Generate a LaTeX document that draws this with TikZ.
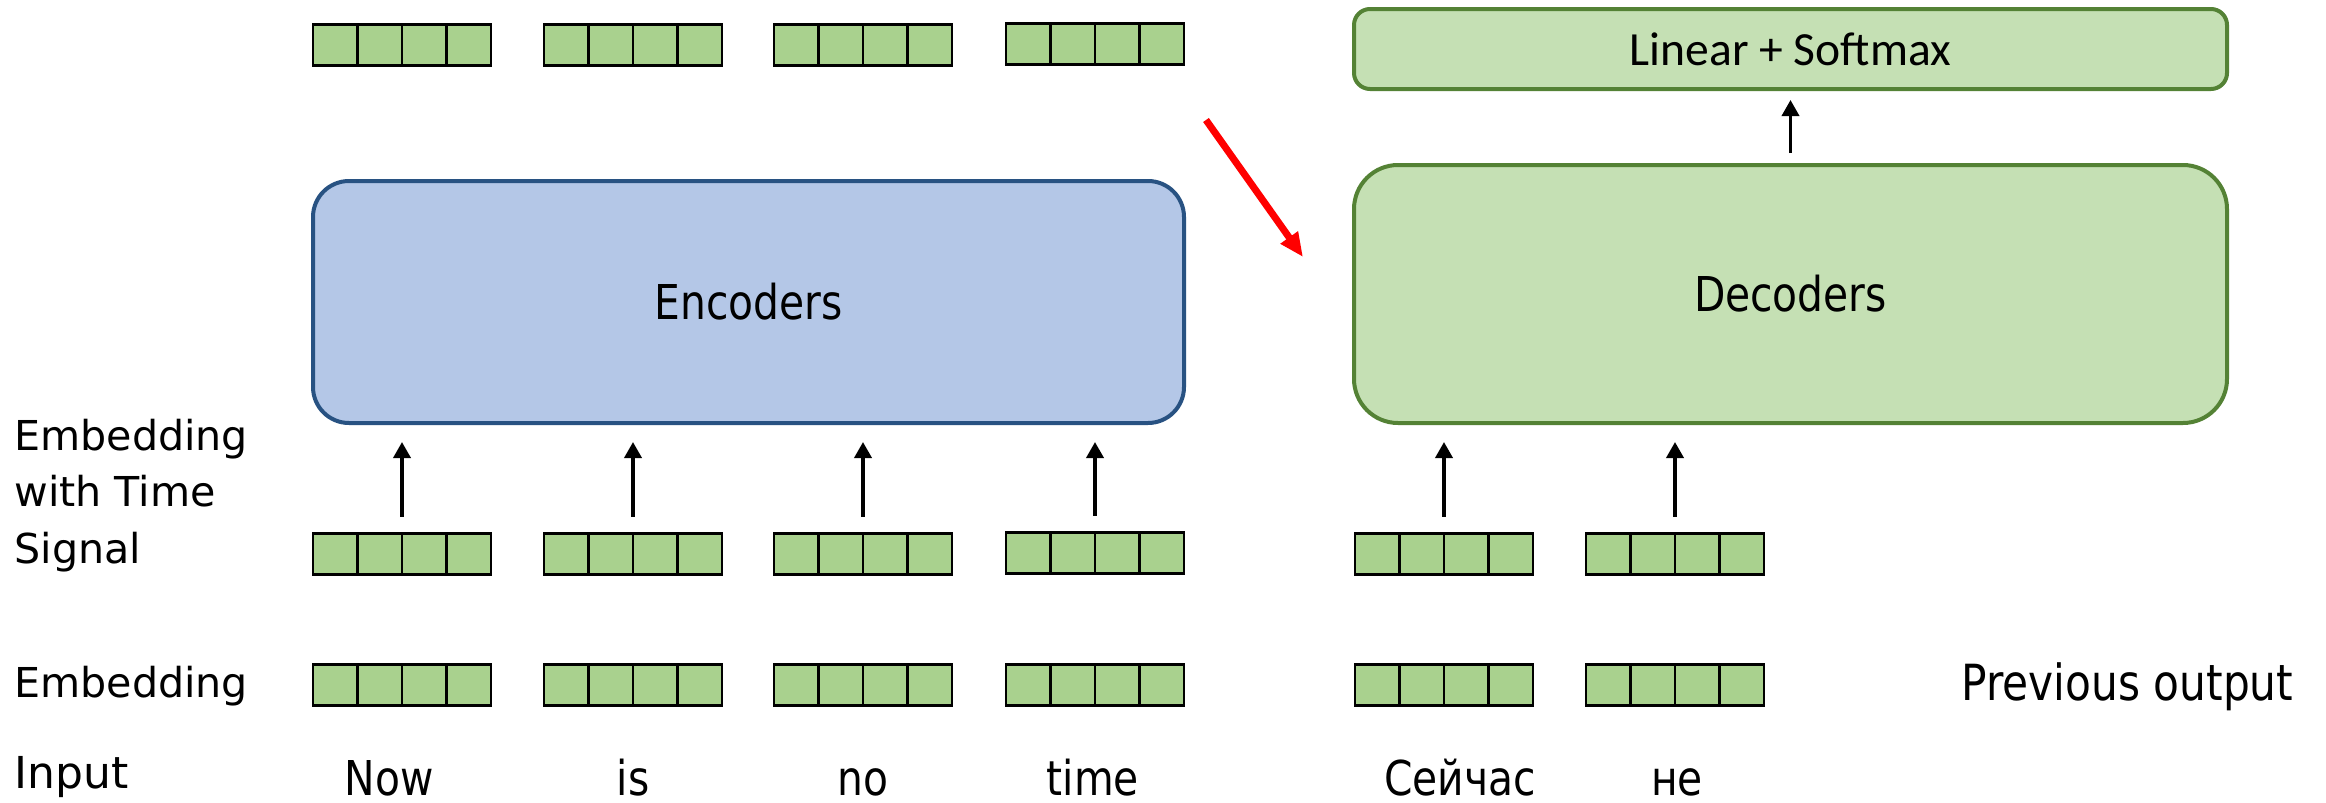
\documentclass[tikz,border=0pt]{standalone}
\usepackage{fontspec}
\setmainfont{DejaVu Sans}
\newfontfamily\condfont[FakeStretch=0.85]{DejaVu Sans}
\newfontfamily\calfont{Carlito}
\usetikzlibrary{arrows.meta,calc}
\definecolor{cellgreen}{RGB}{169,209,142}
\definecolor{encfill}{RGB}{180,199,231}
\definecolor{encline}{RGB}{40,82,130}
\definecolor{decfill}{RGB}{197,224,180}
\definecolor{decline}{RGB}{84,130,53}

\begin{document}
\begin{tikzpicture}[x=0.5pt,y=-0.5pt,
  vec/.style={draw=black, fill=cellgreen, line width=1.4pt,
    minimum width=89pt, minimum height=20.5pt, inner sep=0pt, outer sep=0pt,
    path picture={\foreach \k in {1,2,3}{
      \draw[line width=1.4pt]
        ($(path picture bounding box.south west)!\k/4!(path picture bounding box.south east)$)
        -- ++(0,30pt);}}},
  lbl/.style={font=\fontsize{20.6pt}{24pt}\selectfont, anchor=base west, inner sep=0pt},
  word/.style={font=\condfont\fontsize{24pt}{28pt}\selectfont, anchor=base, inner sep=0pt},
  bigbox/.style={line width=2pt, font=\condfont\fontsize{24pt}{28pt}\selectfont},
  upar/.style={-{Triangle[length=8pt,width=8.5pt]}, line width=1.8pt,
    shorten <=8.5pt, shorten >=8.5pt},
]
\useasboundingbox (0,0) rectangle (2326,803);

% encoder output vectors
\node[vec] (o1) at (402,45) {};
\node[vec] (o2) at (633,45) {};
\node[vec] (o3) at (863,45) {};
\node[vec] (o4) at (1095,44) {};

% linear + softmax
\node[bigbox, draw=decline, fill=decfill, rounded corners=8pt,
      minimum width=436.5pt, minimum height=40pt, font=\calfont\fontsize{23.8pt}{28pt}\selectfont]
      (lin) at (1790.5,49) {Linear + Softmax};

% encoder and decoder stacks
\node[bigbox, draw=encline, fill=encfill, rounded corners=18pt,
      minimum width=435.5pt, minimum height=121pt] (enc) at (748.5,302) {Encoders};
\node[bigbox, draw=decline, fill=decfill, rounded corners=22pt,
      minimum width=436.5pt, minimum height=129pt] (dec) at (1790.5,294) {Decoders};

\draw[upar, shorten <=5pt, shorten >=4.5pt] (dec.north) -- (lin.south);

% hand-over from encoder to decoder
\coordinate (r1) at (1206,120);
\coordinate (r2) at (1303,257);
\draw[red, line width=3.5pt, -{Triangle[length=12pt,width=10pt]}] (r1) -- (r2);

% embeddings with time signal
\node[vec] (e1) at (402,554) {};
\node[vec] (e2) at (633,554) {};
\node[vec] (e3) at (863,554) {};
\node[vec] (e4) at (1095,553) {};
\node[vec] (d1) at (1444,554) {};
\node[vec] (d2) at (1675,554) {};

\foreach \n in {e1,e2,e3,e4}{\draw[upar] (\n.north) -- (\n.north |- enc.south);}
\foreach \n in {d1,d2}{\draw[upar] (\n.north) -- (\n.north |- dec.south);}

% plain embeddings
\node[vec] (m1) at (402,685) {};
\node[vec] (m2) at (633,685) {};
\node[vec] (m3) at (863,685) {};
\node[vec] (m4) at (1095,685) {};
\node[vec] (m5) at (1444,685) {};
\node[vec] (m6) at (1675,685) {};

% row labels
\node[lbl] (ts1) at (14,450) {Embedding};
\node[lbl] (ts2) at (14,506) {with Time};
\node[lbl] (ts3) at (14,563) {Signal};
\node[lbl] (emb) at (14,697) {Embedding};
\node[lbl, font=\fontsize{22pt}{26pt}\selectfont] (inp) at (14,788) {Input};
\node[word, anchor=base west, font=\condfont\fontsize{24.9pt}{28pt}\selectfont]
      (prev) at (1961,700) {Previous output};

% tokens
\node[word] (w1) at (389,795) {Now};
\node[word] (w2) at (633,795) {is};
\node[word] (w3) at (863,795) {no};
\node[word] (w4) at (1093,795) {time};
\node[word] (w5) at (1460,795) {Сейчас};
\node[word] (w6) at (1677,795) {не};
\end{tikzpicture}
\end{document}
